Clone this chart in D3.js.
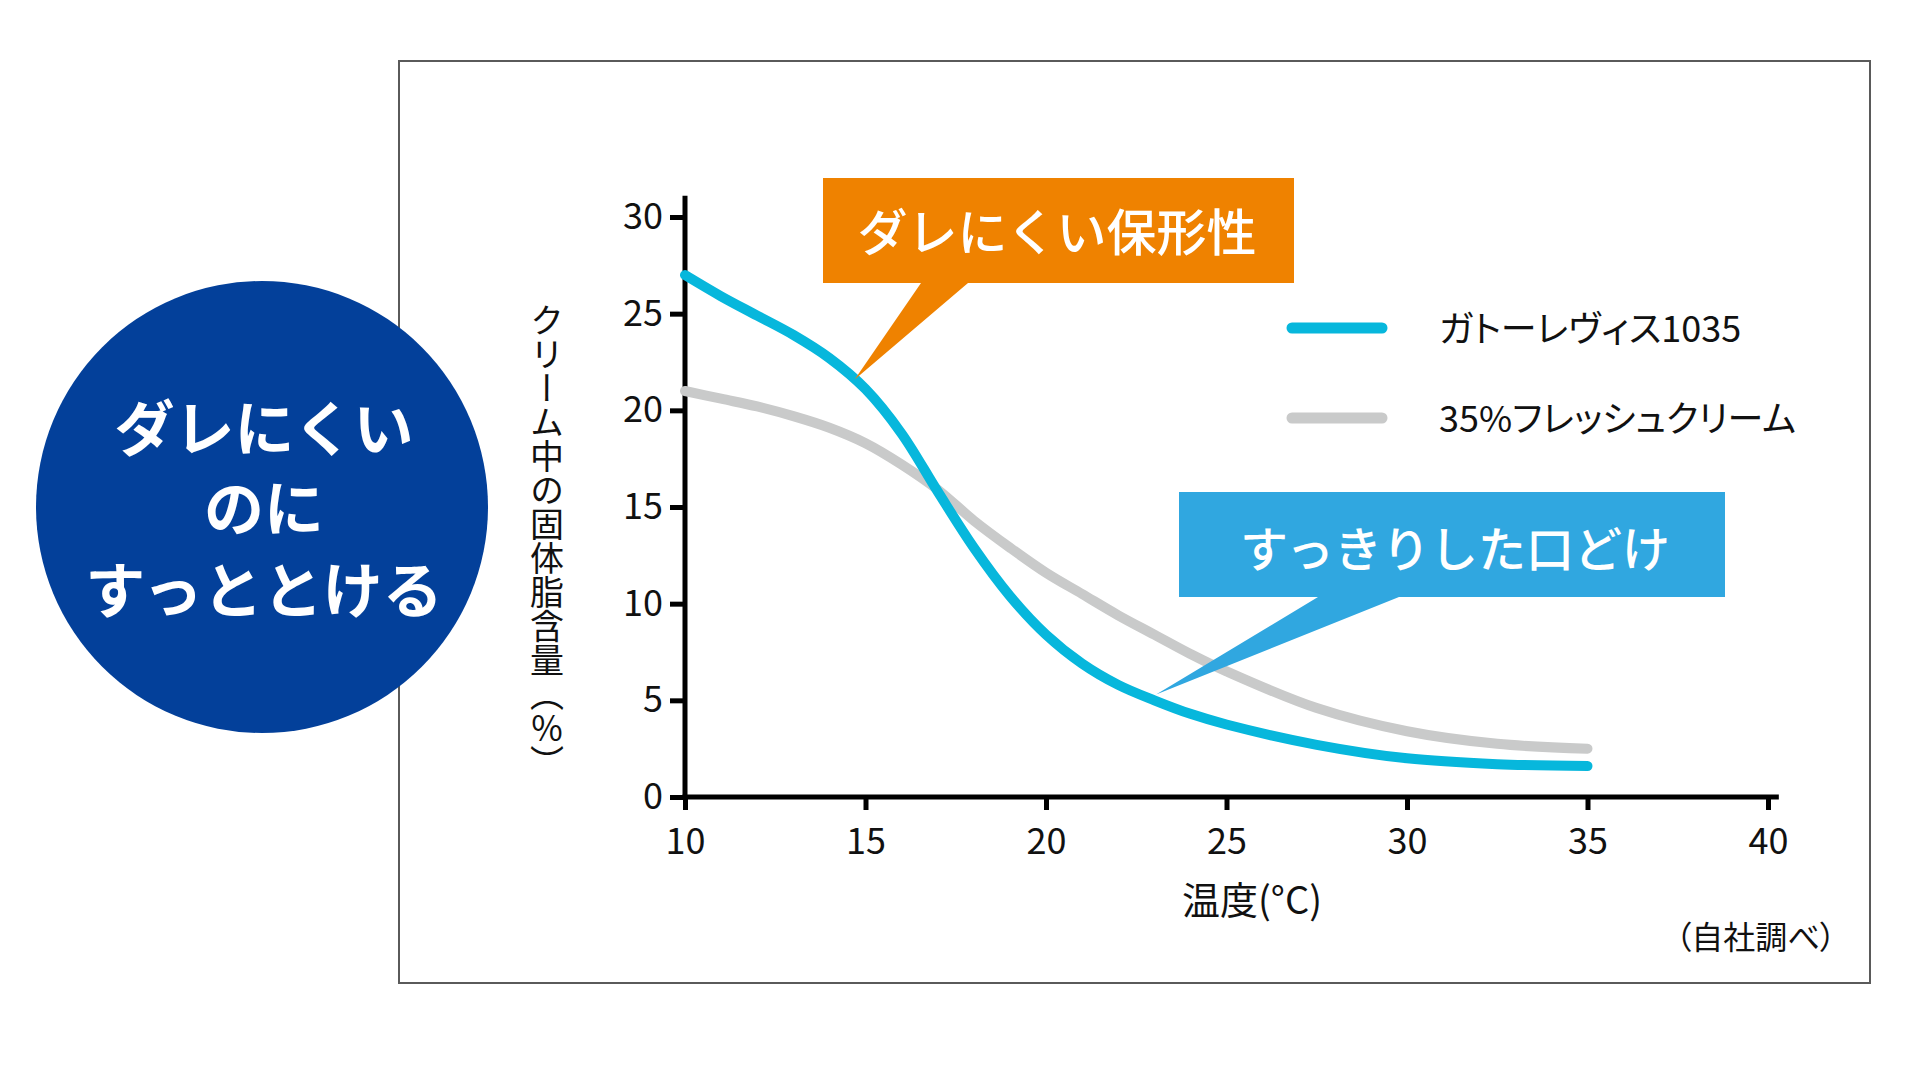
<!DOCTYPE html>
<html lang="ja">
<head>
<meta charset="utf-8">
<title>クリーム中の固体脂含量</title>
<script src="https://cdn.jsdelivr.net/npm/d3@7"></script>
<style>
    body { margin: 0; background: #fff; }
    svg text { font-family: "Noto Sans CJK JP", "Noto Sans", sans-serif; }
</style>
</head>
<body>
<div id="chart"></div>
<script>
/* Solid fat content vs temperature chart */

var temps = [10, 11, 12, 13, 14, 15, 16, 17, 18, 19, 20, 21, 22, 23, 24, 25, 27.5, 30, 32.5, 35];

//ガトーレヴィス1035
var gatoValues = [27.0, 25.9, 24.9, 23.9, 22.7, 21.1, 18.8, 15.8, 12.9, 10.4, 8.4, 6.9, 5.8, 5.0, 4.3, 3.75, 2.7, 2.0, 1.7, 1.6];

//35%フレッシュクリーム
var freshValues = [21.0, 20.6, 20.2, 19.7, 19.1, 18.3, 17.2, 15.9, 14.3, 12.9, 11.6, 10.5, 9.4, 8.4, 7.4, 6.5, 4.6, 3.4, 2.75, 2.5];

//series names and colours
var seriesNames = ["ガトーレヴィス1035", "35%フレッシュクリーム"];
var seriesColors = ["#07b7dc", "#c9caca"];

//tick labels
var xTicks = [10, 15, 20, 25, 30, 35, 40];
var yTicks = [0, 5, 10, 15, 20, 25, 30];

//texts
var xTitle = "温度(°C)";
var yTitle = "クリーム中の固体脂含量（％）";
var sourceNote = "（自社調べ）";
var badgeLines = ["ダレにくい", "のに", "すっととける"];
var calloutTop = "ダレにくい保形性";
var calloutBottom = "すっきりした口どけ";

function createChart(){
    var svg = d3.select("#chart").append("svg")
        .attr("width", 1920)
        .attr("height", 1080);

    //outer frame
    svg.append("rect")
        .attr("x", 399).attr("y", 61)
        .attr("width", 1471).attr("height", 922)
        .attr("fill", "#fff")
        .attr("stroke", "#5a5a5a")
        .attr("stroke-width", 2);

    //scales
    var x = d3.scaleLinear().domain([10, 40]).range([685, 1768]);
    var y = d3.scaleLinear().domain([0, 30]).range([797, 217]);

    //axes
    var yAxis = svg.append("g")
        .attr("transform", "translate(" + x(10) + ",0)")
        .call(d3.axisLeft(y).tickValues(yTicks).tickSize(15).tickPadding(7));
    var xAxis = svg.append("g")
        .attr("transform", "translate(0," + y(0) + ")")
        .call(d3.axisBottom(x).tickValues(xTicks).tickSize(13).tickPadding(8));

    [xAxis, yAxis].forEach(function(g){
        g.select(".domain").remove();
        g.selectAll(".tick line").attr("stroke", "#000").attr("stroke-width", 5);
        g.selectAll(".tick text")
            .attr("fill", "#111")
            .style("font-size", "36px");
    });
    xAxis.selectAll(".tick text").attr("dy", null).attr("y", 57);

    //axis lines, drawn a little past the last ticks
    svg.append("line")
        .attr("x1", x(10)).attr("x2", x(10))
        .attr("y1", y(31.1)).attr("y2", y(0) + 2.5)
        .attr("stroke", "#000").attr("stroke-width", 5);
    svg.append("line")
        .attr("x1", x(10) - 2.5).attr("x2", x(40.3))
        .attr("y1", y(0)).attr("y2", y(0))
        .attr("stroke", "#000").attr("stroke-width", 5);

    //axis titles
    svg.append("text")
        .attr("x", 1252).attr("y", 914)
        .attr("text-anchor", "middle")
        .style("font-size", "38px")
        .attr("fill", "#111")
        .text(xTitle);

    svg.append("text")
        .attr("x", 547).attr("y", 541)
        .attr("text-anchor", "middle")
        .style("writing-mode", "vertical-rl")
        .style("font-size", "34px")
        .attr("fill", "#111")
        .text(yTitle);

    svg.append("text")
        .attr("x", 1836).attr("y", 949)
        .attr("text-anchor", "end")
        .style("font-size", "32px")
        .style("font-feature-settings", "'palt'")
        .attr("fill", "#111")
        .text(sourceNote);

    //curves
    var line = d3.line()
        .x(function(d){ return x(d[0]); })
        .y(function(d){ return y(d[1]); })
        .curve(d3.curveCatmullRom.alpha(0.5));

    var series = [freshValues, gatoValues];
    var colors = [seriesColors[1], seriesColors[0]];
    series.forEach(function(vals, i){
        svg.append("path")
            .datum(temps.map(function(t, j){ return [t, vals[j]]; }))
            .attr("d", line)
            .attr("fill", "none")
            .attr("stroke", colors[i])
            .attr("stroke-width", 10)
            .attr("stroke-linecap", "round");
    });

    //legend
    var legend = svg.append("g");
    seriesNames.forEach(function(name, i){
        var ly = 328 + i * 90;
        legend.append("line")
            .attr("x1", 1292).attr("x2", 1382)
            .attr("y1", ly).attr("y2", ly)
            .attr("stroke", seriesColors[i])
            .attr("stroke-width", 11)
            .attr("stroke-linecap", "round");
        legend.append("text")
            .attr("x", 1439).attr("y", ly - 2)
            .attr("dominant-baseline", "central")
            .style("font-size", "36px")
            .style("font-feature-settings", "'palt'")
            .attr("fill", "#111")
            .text(name);
    });

    //orange callout pointing at the top curve
    svg.append("path")
        .attr("d", "M823,178H1294V283H968L" + x(14.7) + "," + y(21.6) + "L921,283H823Z")
        .attr("fill", "#ef8200");
    svg.append("text")
        .attr("x", 1057).attr("y", 229)
        .attr("text-anchor", "middle")
        .attr("dominant-baseline", "central")
        .style("font-size", "50px")
        .style("font-weight", 500)
        .attr("fill", "#fff")
        .text(calloutTop);

    //blue callout pointing at the tail
    svg.append("path")
        .attr("d", "M1179,492H1725V597H1399L" + x(23.05) + "," + y(5.3) + "L1318,597H1179Z")
        .attr("fill", "#30a7e0");
    svg.append("text")
        .attr("x", 1455).attr("y", 546)
        .attr("text-anchor", "middle")
        .attr("dominant-baseline", "central")
        .style("font-size", "48px")
        .style("font-weight", 500)
        .attr("fill", "#fff")
        .text(calloutBottom);

    //round badge on the left
    svg.append("circle")
        .attr("cx", 262).attr("cy", 507).attr("r", 226)
        .attr("fill", "#03409a");
    badgeLines.forEach(function(t, i){
        svg.append("text")
            .attr("x", 264).attr("y", [424, 504, 586][i])
            .attr("text-anchor", "middle")
            .attr("dominant-baseline", "central")
            .style("font-size", "60px")
            .style("font-weight", 700)
            .attr("fill", "#fff")
            .text(t);
    });
};

createChart();
</script>
</body>
</html>
